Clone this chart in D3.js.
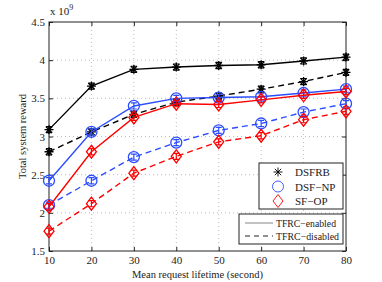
<!DOCTYPE html>
<html>
<head>
<meta charset="utf-8">
<script src="https://cdn.jsdelivr.net/npm/d3@7"></script>
<style>
  body { margin: 0; background: #fff; }
  text { font-family: "Liberation Serif", "DejaVu Serif", serif; }
</style>
</head>
<body>
<div class="chart"></div>
<script>
const width = 382;
const height = 282;

// data (values in units of 1e9)
const lifetimes = [10, 20, 30, 40, 50, 60, 70, 80];
const dsfrbOn  = [3.09, 3.66, 3.88, 3.91, 3.93, 3.94, 3.99, 4.04];
const dsfrbOff = [2.80, 3.06, 3.29, 3.45, 3.53, 3.62, 3.72, 3.84];
const dsfnpOn  = [2.42, 3.06, 3.40, 3.50, 3.51, 3.52, 3.57, 3.62];
const dsfnpOff = [2.10, 2.42, 2.73, 2.92, 3.08, 3.17, 3.32, 3.43];
const sfopOn   = [2.08, 2.80, 3.25, 3.43, 3.42, 3.48, 3.54, 3.59];
const sfopOff  = [1.76, 2.12, 2.52, 2.74, 2.93, 3.01, 3.22, 3.33];
const errHalf  = [0.04, 0.04, 0.04, 0.04, 0.04, 0.04, 0.04, 0.04];
const yTicks = [1.5, 2, 2.5, 3, 3.5, 4, 4.5];
const xTicks = [10, 20, 30, 40, 50, 60, 70, 80];

const series = [
  { name: "DSFRB", vals: dsfrbOn, color: "#000", marker: "star", dash: null },
  { name: "DSFRB", vals: dsfrbOff, color: "#000", marker: "star", dash: "6,4" },
  { name: "DSF-NP", vals: dsfnpOn, color: "#2b4cff", marker: "circle", dash: null },
  { name: "DSF-NP", vals: dsfnpOff, color: "#2b4cff", marker: "circle", dash: "6,4" },
  { name: "SF-OP", vals: sfopOn, color: "#ff0000", marker: "diamond", dash: null },
  { name: "SF-OP", vals: sfopOff, color: "#ff0000", marker: "diamond", dash: "6,4" }
];

const m = { left: 49, right: 36, top: 22, bottom: 31 };
const iw = width - m.left - m.right;
const ih = height - m.top - m.bottom;

const svg = d3.select(".chart").append("svg")
  .attr("width", width)
  .attr("height", height);

const g = svg.append("g").attr("transform", `translate(${m.left},${m.top})`);

const x = d3.scaleLinear().domain([10, 80]).range([0, iw]);
const y = d3.scaleLinear().domain([1.5, 4.5]).range([ih, 0]);

// grid
g.append("g").selectAll("line")
  .data(xTicks.slice(1, -1))
  .enter().append("line")
  .attr("x1", d => x(d)).attr("x2", d => x(d))
  .attr("y1", 0).attr("y2", ih)
  .attr("stroke", "#bbb").attr("stroke-dasharray", "1,3");
g.append("g").selectAll("line")
  .data(yTicks.slice(1, -1))
  .enter().append("line")
  .attr("x1", 0).attr("x2", iw)
  .attr("y1", d => y(d)).attr("y2", d => y(d))
  .attr("stroke", "#bbb").attr("stroke-dasharray", "1,3");

// axes, MATLAB style inward ticks
const fmtY = d => (d % 1 === 0 ? d3.format("d")(d) : d3.format(".1f")(d));
g.append("g").attr("transform", `translate(0,${ih})`)
  .call(d3.axisBottom(x).tickValues(xTicks).tickSize(-4).tickPadding(5))
  .call(a => a.select(".domain").remove());
g.append("g").call(d3.axisTop(x).tickValues(xTicks).tickSize(-4).tickFormat(""))
  .call(a => a.select(".domain").remove());
g.append("g")
  .call(d3.axisLeft(y).tickValues(yTicks).tickSize(-4).tickPadding(4).tickFormat(fmtY))
  .call(a => a.select(".domain").remove());
g.append("g").attr("transform", `translate(${iw},0)`)
  .call(d3.axisRight(y).tickValues(yTicks).tickSize(-4).tickFormat(""))
  .call(a => a.select(".domain").remove());
g.selectAll(".tick text").style("font-size", "11px").attr("fill", "#222");
g.selectAll(".tick line").attr("stroke", "#222");

g.append("rect")
  .attr("width", iw).attr("height", ih)
  .attr("fill", "none").attr("stroke", "#222");

svg.append("text")
  .attr("x", m.left + 1).attr("y", 15)
  .style("font-size", "11px").attr("fill", "#222")
  .html('x 10<tspan dy="-5" style="font-size:8px">9</tspan>');

// markers
function drawMarker(sel, type, color) {
  if (type === "circle") {
    sel.append("circle").attr("r", 5.5).attr("fill", "none")
      .attr("stroke", color).attr("stroke-width", 1.3);
  } else if (type === "diamond") {
    sel.append("path").attr("d", "M0,-6.5L5,0L0,6.5L-5,0Z").attr("fill", "none")
      .attr("stroke", color).attr("stroke-width", 1.3);
  } else {
    const r = 4.5;
    let d = "";
    for (let k = 0; k < 4; k++) {
      const a = k * Math.PI / 4;
      d += `M${-r * Math.cos(a)},${-r * Math.sin(a)}L${r * Math.cos(a)},${r * Math.sin(a)}`;
    }
    sel.append("path").attr("d", d).attr("stroke", color).attr("stroke-width", 1.3);
  }
}

const line = d3.line().x((d, i) => x(lifetimes[i])).y(d => y(d));

series.forEach(s => {
  g.append("path").datum(s.vals)
    .attr("d", line).attr("fill", "none")
    .attr("stroke", s.color).attr("stroke-width", 1.4)
    .attr("stroke-dasharray", s.dash);

  const pts = g.append("g").selectAll("g")
    .data(s.vals).enter().append("g")
    .attr("transform", (d, i) => `translate(${x(lifetimes[i])},${y(d)})`);
  pts.append("line")
    .attr("y1", (d, i) => y(d - errHalf[i]) - y(d))
    .attr("y2", (d, i) => y(d + errHalf[i]) - y(d))
    .attr("stroke", s.color).attr("stroke-width", 1.2);
  pts.append("path")
    .attr("d", (d, i) => {
      const a = y(d - errHalf[i]) - y(d), b = y(d + errHalf[i]) - y(d);
      return `M-3,${a}H3M-3,${b}H3`;
    })
    .attr("stroke", s.color).attr("stroke-width", 1.2);
  pts.each(function() { drawMarker(d3.select(this), s.marker, s.color); });
});

// labels
svg.append("text")
  .attr("x", m.left + iw / 2).attr("y", 278)
  .attr("text-anchor", "middle").style("font-size", "10.5px").attr("fill", "#222")
  .text("Mean request lifetime (second)");
svg.append("text")
  .attr("transform", `translate(26,${m.top + ih / 2}) rotate(-90)`)
  .attr("text-anchor", "middle").style("font-size", "10.5px").attr("fill", "#222")
  .text("Total system reward");

// legend: markers
const leg1 = svg.append("g");
leg1.append("rect").attr("x", 259).attr("y", 163).attr("width", 84).attr("height", 46)
  .attr("fill", "#fff").attr("stroke", "#222");
const legItems = [series[0], series[2], series[4]];
legItems.forEach((s, i) => {
  const row = leg1.append("g").attr("transform", `translate(278,${172 + i * 14.5})`);
  drawMarker(row, s.marker, s.color);
  row.select("*").attr("stroke-width", 0.9);
  row.append("text").attr("x", 17).attr("y", 4)
    .style("font-size", "11px").attr("fill", "#222")
    .text(s.name.replace("-", "\u2212"));
});

// legend: line styles
const leg2 = svg.append("g");
leg2.append("rect").attr("x", 239).attr("y", 214).attr("width", 104).attr("height", 30)
  .attr("fill", "#fff").attr("stroke", "#222");
const lineItems = [{ label: "TFRC\u2212enabled", dash: null, color: "#999", w: 60 },
                   { label: "TFRC\u2212disabled", dash: "5,4", color: "#222", w: 63 }];
lineItems.forEach((d, i) => {
  const yy = 223 + i * 13;
  leg2.append("line").attr("x1", 245).attr("x2", 273).attr("y1", yy).attr("y2", yy)
    .attr("stroke", d.color).attr("stroke-width", 1.2).attr("stroke-dasharray", d.dash);
  leg2.append("text").attr("x", 276).attr("y", yy + 3.5)
    .style("font-size", "10px").attr("fill", "#222")
    .attr("textLength", d.w).attr("lengthAdjust", "spacingAndGlyphs")
    .text(d.label);
});
</script>
</body>
</html>
